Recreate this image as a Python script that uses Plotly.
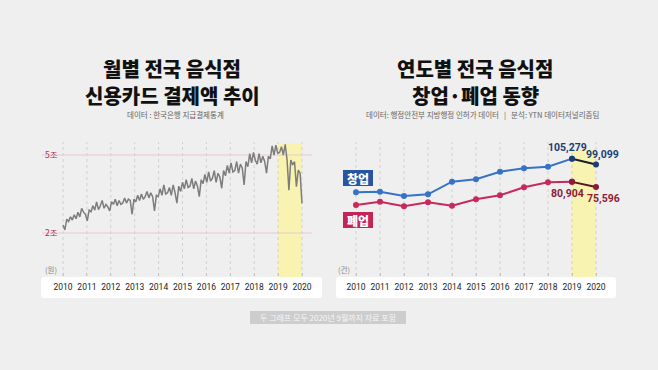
import plotly.graph_objects as go

W, H = 658, 370

# ---------------- Data ----------------
# Left: monthly restaurant credit-card spending (unit: 조 원), 2010-01 .. 2020-09
spend_2010 = [2.31, 2.12, 2.53, 2.44, 2.62, 2.50, 2.70, 2.55, 2.80, 2.62, 2.95, 2.80]
spend_2011 = [2.72, 2.47, 2.88, 2.82, 3.05, 2.88, 3.20, 2.90, 3.05, 3.25, 2.95, 3.10]
spend_2012 = [3.00, 2.85, 3.20, 3.10, 3.30, 3.05, 3.25, 3.10, 3.15, 3.35, 3.15, 3.30]
spend_2013 = [3.25, 2.72, 3.30, 3.20, 3.45, 3.25, 3.50, 3.30, 3.40, 3.60, 3.35, 3.55]
spend_2014 = [3.40, 2.85, 3.45, 3.40, 3.70, 3.45, 3.85, 3.50, 3.55, 3.75, 3.45, 3.85]
spend_2015 = [3.55, 3.15, 3.80, 3.60, 3.95, 3.70, 4.05, 3.75, 3.80, 4.10, 3.70, 4.00]
spend_2016 = [3.80, 3.40, 4.05, 3.90, 4.25, 3.95, 4.35, 4.00, 4.10, 4.40, 3.95, 4.30]
spend_2017 = [4.15, 3.72, 4.40, 4.20, 4.60, 4.30, 4.70, 4.35, 4.40, 4.75, 4.30, 4.65]
spend_2018 = [4.50, 3.85, 4.75, 4.55, 5.05, 4.70, 5.10, 4.80, 4.65, 5.05, 4.70, 4.95]
spend_2019 = [4.75, 4.30, 4.95, 4.85, 5.35, 5.00, 5.38, 5.07, 5.10, 5.32, 5.00, 5.41]
spend_2020 = [4.81, 3.65, 4.81, 4.62, 4.74, 3.78, 4.42, 4.30, 3.14]
card_spending = (spend_2010 + spend_2011 + spend_2012 + spend_2013 + spend_2014 + spend_2015
                 + spend_2016 + spend_2017 + spend_2018 + spend_2019 + spend_2020)
month_index = list(range(len(card_spending)))

year_labels = ["2010", "2011", "2012", "2013", "2014", "2015", "2016", "2017", "2018", "2019", "2020"]
left_ytick_vals = [2, 5]
left_ytick_text = ["2조", "5조"]

# Right: yearly restaurant openings / closures (건)
years = [2010, 2011, 2012, 2013, 2014, 2015, 2016, 2017, 2018, 2019, 2020]
openings = [70000, 70600, 66100, 67800, 81100, 83600, 91600, 95200, 96800, 105279, 99099]
closures = [56600, 60100, 55300, 59500, 55900, 62600, 66800, 75200, 80600, 80904, 75596]

# ---------------- Helpers ----------------
def px(x):
    return x / W


def py(y):
    return 1 - y / H


BG = "#efefef"
KFONT = "Noto Sans CJK KR"
NARROW = "Liberation Sans Narrow, Roboto, sans-serif"


def note(text, x, y, size, color, family=KFONT, xref="paper", yref="paper", weight=None, **kw):
    f = dict(family=family, size=size, color=color)
    if weight is not None:
        f["weight"] = weight
    d = dict(text=text, x=x, y=y, xref=xref, yref=yref, showarrow=False,
             xanchor="center", yanchor="middle", font=f)
    d.update(kw)
    return d


fig = go.Figure()

# ---- left chart axes geometry ----
N = len(card_spending)
u_left = (N - 1) / (302 - 63)
lx0, lx1 = 42, 320
left_xrange = [-(63 - lx0) * u_left, (N - 1) + (lx1 - 302) * u_left]
left_tickvals = [i * (N - 1) / 10 for i in range(11)]


def v_left(ypix):
    return 2 + (233 - ypix) / 26


top_px, bot_px = 140, 276
left_yrange = [v_left(bot_px), v_left(top_px)]

# ---- right chart axes geometry ----
u_right = 10 / (596 - 356)
rx0, rx1 = 337, 616
right_xrange = [2010 - (356 - rx0) * u_right, 2020 + (rx1 - 596) * u_right]


def v_right(ypix):
    return 90219.5 + (173 - ypix) * 1050


right_yrange = [v_right(bot_px), v_right(top_px)]

shapes = []
annotations = []

# white x-label strips
for (a, b) in [(41, 322), (336, 616)]:
    r = 3
    y0, y1 = 277, 298
    path = (f"M {px(a + r)},{py(y0)} L {px(b - r)},{py(y0)} Q {px(b)},{py(y0)} {px(b)},{py(y0 + r)} "
            f"L {px(b)},{py(y1 - r)} Q {px(b)},{py(y1)} {px(b - r)},{py(y1)} "
            f"L {px(a + r)},{py(y1)} Q {px(a)},{py(y1)} {px(a)},{py(y1 - r)} "
            f"L {px(a)},{py(y0 + r)} Q {px(a)},{py(y0)} {px(a + r)},{py(y0)} Z")
    shapes.append(dict(type="path", path=path, xref="paper", yref="paper",
                       fillcolor="white", line=dict(width=0), layer="below"))

# yellow highlights
shapes.append(dict(type="rect", xref="x", yref="paper", x0=left_tickvals[9], x1=left_tickvals[10],
                   y0=py(277), y1=py(143), fillcolor="#f8f3b0", line=dict(width=0), layer="below"))
shapes.append(dict(type="rect", xref="x2", yref="paper", x0=2019, x1=2020,
                   y0=py(277), y1=py(150), fillcolor="#f8f3b0", line=dict(width=0), layer="below"))

# dotted vertical gridlines
for tv in left_tickvals:
    shapes.append(dict(type="line", xref="x", yref="paper", x0=tv, x1=tv, y0=py(276), y1=py(142),
                       line=dict(color="#d0d0d0", width=1, dash="dot"), layer="below"))
for yr in years:
    shapes.append(dict(type="line", xref="x2", yref="paper", x0=yr, x1=yr, y0=py(276), y1=py(142),
                       line=dict(color="#d0d0d0", width=1, dash="dot"), layer="below"))

# horizontal reference lines for 2조 / 5조
for v in left_ytick_vals:
    shapes.append(dict(type="line", xref="paper", yref="y", x0=px(42), x1=px(312), y0=v, y1=v,
                       line=dict(color="#e9c9d2", width=1), layer="below"))

# legend boxes (창업 / 폐업)
shapes.append(dict(type="rect", xref="paper", yref="paper", x0=px(343), x1=px(373), y0=py(186), y1=py(170),
                   fillcolor="#2656a3", line=dict(width=0)))
shapes.append(dict(type="rect", xref="paper", yref="paper", x0=px(343), x1=px(373), y0=py(228), y1=py(212),
                   fillcolor="#c4245a", line=dict(width=0)))
annotations.append(note("창업", px(358), py(178), 12, "white", weight=900))
annotations.append(note("폐업", px(358), py(220), 12, "white", weight=900))

# footnote box
shapes.append(dict(type="rect", xref="paper", yref="paper", x0=px(250), x1=px(406), y0=py(324), y1=py(311),
                   fillcolor="#cdcdcd", line=dict(width=0)))
annotations.append(note("두 그래프 모두 2020년 9월까지 자료 포함", px(328), py(317.5), 8, "#f6f6f6"))

# titles
for (cx, l1, l2, src, sx) in [
    (172, "월별 전국 음식점", "신용카드 결제액 추이", "데이터 : 한국은행 지급결제통계", 175),
    (475, "연도별 전국 음식점", "창업·폐업 동향",
     "데이터: 행정안전부 지방행정 인허가 데이터   |   분석: YTN 데이터저널리즘팀", 482),
]:
    annotations.append(note(l1, px(cx), py(68), 20, "#111111", weight=900))
    annotations.append(note(l2, px(cx), py(95), 20, "#111111", weight=900))
    annotations.append(note(src, px(sx), py(115), 7.5, "#666666"))

# unit labels
annotations.append(note("(원)", px(51), py(269), 7.5, "#888888"))
annotations.append(note("(건)", px(344), py(269), 7.5, "#888888"))

# ---------------- Traces ----------------
fig.add_trace(go.Scatter(x=month_index, y=card_spending, mode="lines",
                         line=dict(color="#7d7d7d", width=1.5), xaxis="x", yaxis="y",
                         hoverinfo="skip"))

BLUE, NAVY = "#3572c8", "#1d3e74"
RED, MAROON = "#c8295c", "#8c1b35"

fig.add_trace(go.Scatter(x=years[:10], y=openings[:10], mode="lines+markers",
                         line=dict(color=BLUE, width=2), marker=dict(color=BLUE, size=6),
                         xaxis="x2", yaxis="y2", hoverinfo="skip"))
fig.add_trace(go.Scatter(x=years[:10], y=closures[:10], mode="lines+markers",
                         line=dict(color=RED, width=2), marker=dict(color=RED, size=6),
                         xaxis="x2", yaxis="y2", hoverinfo="skip"))
fig.add_trace(go.Scatter(x=years[9:], y=openings[9:], mode="lines+markers",
                         line=dict(color="#1a1f2e", width=2), marker=dict(color=NAVY, size=6),
                         xaxis="x2", yaxis="y2", hoverinfo="skip"))
fig.add_trace(go.Scatter(x=years[9:], y=closures[9:], mode="lines+markers",
                         line=dict(color="#5a1424", width=2), marker=dict(color=MAROON, size=6),
                         xaxis="x2", yaxis="y2", hoverinfo="skip"))

# value labels
annotations.append(note(f"<b>{openings[9]:,}</b>", years[9] - 0.2, openings[9], 10.5, NAVY, NARROW,
                        "x2", "y2", yshift=11))
annotations.append(note(f"<b>{openings[10]:,}</b>", years[10] + 0.25, openings[10], 10.5, NAVY, NARROW,
                        "x2", "y2", yshift=10))
annotations.append(note(f"<b>{closures[9]:,}</b>", years[9] - 0.2, closures[9], 10.5, MAROON, NARROW,
                        "x2", "y2", yshift=-12))
annotations.append(note(f"<b>{closures[10]:,}</b>", years[10] + 0.3, closures[10], 10.5, MAROON, NARROW,
                        "x2", "y2", yshift=-12))

axis_common = dict(showgrid=False, zeroline=False, showline=False, fixedrange=True)

fig.update_layout(
    width=W, height=H,
    margin=dict(l=0, r=0, t=0, b=0),
    paper_bgcolor=BG, plot_bgcolor="rgba(0,0,0,0)",
    showlegend=False,
    xaxis=dict(domain=[px(lx0), px(lx1)], range=left_xrange, tickvals=left_tickvals, ticktext=year_labels,
               ticks="inside", ticklen=3, tickcolor="#c4c4c4",
               tickfont=dict(family=NARROW, size=8.5, color="#222222"), ticklabelstandoff=4,
               anchor="y", **axis_common),
    yaxis=dict(domain=[py(bot_px), py(top_px)], range=left_yrange, tickvals=left_ytick_vals,
               ticktext=left_ytick_text, ticks="", ticklabelposition="inside",
               tickfont=dict(family=KFONT, size=8.5, color="#b03058"),
               anchor="x", **axis_common),
    xaxis2=dict(domain=[px(rx0), px(rx1)], range=right_xrange, tickvals=years, ticktext=year_labels,
                ticks="inside", ticklen=3, tickcolor="#c4c4c4",
                tickfont=dict(family=NARROW, size=8.5, color="#222222"), ticklabelstandoff=4,
                anchor="y2", **axis_common),
    yaxis2=dict(domain=[py(bot_px), py(top_px)], range=right_yrange, showticklabels=False,
                anchor="x2", **axis_common),
    shapes=shapes,
    annotations=annotations,
)

fig.write_html("out.html", config={"displayModeBar": False},
               post_script="document.body.style.margin='0';document.body.style.padding='0';"
                           "document.body.style.overflow='hidden';")
